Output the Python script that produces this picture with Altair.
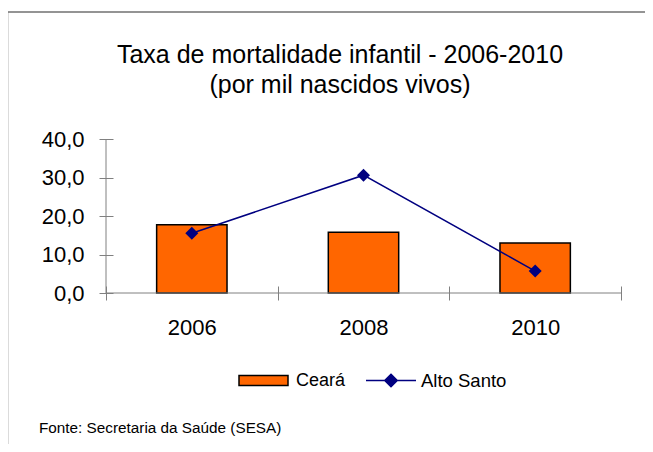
import altair as alt
import pandas as pd

anos = ["2006", "2008", "2010"]
ceara = [17.7, 15.8, 13.0]
alto_santo = [15.5, 30.6, 5.7]
y_ticks = [0, 10, 20, 30, 40]
titulo = ["Taxa de mortalidade infantil - 2006-2010", "(por mil nascidos vivos)"]
fonte = "Fonte: Secretaria da Saúde (SESA)"
serie_barra = "Ceará"
serie_linha = "Alto Santo"

df_bar = pd.DataFrame({"ano": anos, "valor": ceara, "serie": serie_barra})
df_line = pd.DataFrame({"ano": anos, "valor": alto_santo, "serie": serie_linha})

W, H = 515, 154
FONT = "Liberation Sans"
AXC = "#808080"

x_enc = alt.X(
    "ano:N", sort=anos,
    scale=alt.Scale(paddingInner=0, paddingOuter=0),
    axis=alt.Axis(title=None, labelAngle=0, tickBand="extent", tickSize=14, offset=-7,
                  domain=False, labelPadding=17, labelFontSize=22, labelFont=FONT,
                  labelColor="black", tickColor=AXC, tickWidth=1),
)
y_axis = alt.Axis(title=None, values=y_ticks, tickCount=len(y_ticks), labelOverlap=False,
                  labelExpr="replace(format(datum.value, '.1f'), '.', ',')",
                  tickSize=14, offset=-7, domain=False, grid=False, labelPadding=15,
                  labelFontSize=22, labelFont=FONT, labelColor="black",
                  tickColor=AXC, tickWidth=1)
y_scale = alt.Scale(domain=[y_ticks[0], y_ticks[-1]], nice=False, zero=True)
y_enc = alt.Y("valor:Q", scale=y_scale, axis=y_axis)

bars = alt.Chart(df_bar).mark_bar(
    width=alt.RelativeBandSize(0.41), stroke="black", strokeWidth=1.5
).encode(
    x=x_enc, y=y_enc,
    fill=alt.Fill("serie:N", scale=alt.Scale(domain=[serie_barra], range=["#FF6600"]),
                  legend=alt.Legend(title=None, orient="none", legendX=132, legendY=216,
                                    symbolType="M-1,-0.2H1V0.2H-1Z", symbolSize=2401,
                                    symbolStrokeColor="black", symbolStrokeWidth=1.5,
                                    labelFontSize=18, labelFont=FONT, labelColor="black",
                                    labelOffset=7, padding=0, offset=0)),
)

line = alt.Chart(df_line).mark_line(strokeWidth=1.5).encode(
    x=x_enc, y=y_enc,
    stroke=alt.Stroke("serie:N", scale=alt.Scale(domain=[serie_linha], range=["#000080"]),
                      legend=alt.Legend(title=None, orient="none", legendX=259, legendY=215.5,
                                        symbolType="M-1,0H1M0,-0.25L0.25,0L0,0.25L-0.25,0Z",
                                        symbolSize=2500, symbolFillColor="#000080",
                                        symbolStrokeColor="#000080", symbolStrokeWidth=1.5,
                                        labelFontSize=18.5, labelFont=FONT, labelColor="black",
                                        labelOffset=4, padding=0, offset=0)),
)

points = alt.Chart(df_line).mark_point(
    shape="diamond", filled=True, size=169, color="#000080", opacity=1
).encode(x=x_enc, y=y_enc)

eixo_y = pd.DataFrame({"valor": [y_ticks[0]], "topo": [y_ticks[-1]]})
y_line = alt.Chart(eixo_y).mark_rule(color=AXC, strokeWidth=1).encode(
    x=alt.value(0), y=y_enc, y2="topo:Q")
x_line = alt.Chart(eixo_y).mark_rule(color=AXC, strokeWidth=1).encode(
    y=y_enc, x=alt.value(0), x2=alt.value(W))

one = pd.DataFrame({"k": [0]})
frame_top = alt.Chart(one).mark_rule(color="#707070", strokeWidth=1.5).encode(
    x=alt.value(-98.5), x2=alt.value(W + 40), y=alt.value(-127))
frame_left = alt.Chart(one).mark_rule(color="#707070", strokeWidth=1.5).encode(
    x=alt.value(-98.5), y=alt.value(-127), y2=alt.value(H + 200))

footer = alt.Chart(pd.DataFrame({"t": [fonte]})).mark_text(
    align="left", baseline="alphabetic", fontSize=15.3, font=FONT, color="black"
).encode(x=alt.value(-67), y=alt.value(294), text="t:N")

chart = alt.layer(
    frame_top, frame_left, bars, line, points, y_line, x_line, footer
).properties(
    width=W, height=H,
    title=alt.TitleParams(text=titulo, fontSize=25, font=FONT, fontWeight="normal",
                          anchor="middle", frame="group", dx=-23.5, offset=-112,
                          lineHeight=30.5, color="black", baseline="bottom"),
    padding={"left": 98, "top": 131, "right": 24, "bottom": 151},
    autosize="none",
).configure_view(stroke=None)

chart.save("out.html", embed_options={"renderer": "svg", "actions": False})
